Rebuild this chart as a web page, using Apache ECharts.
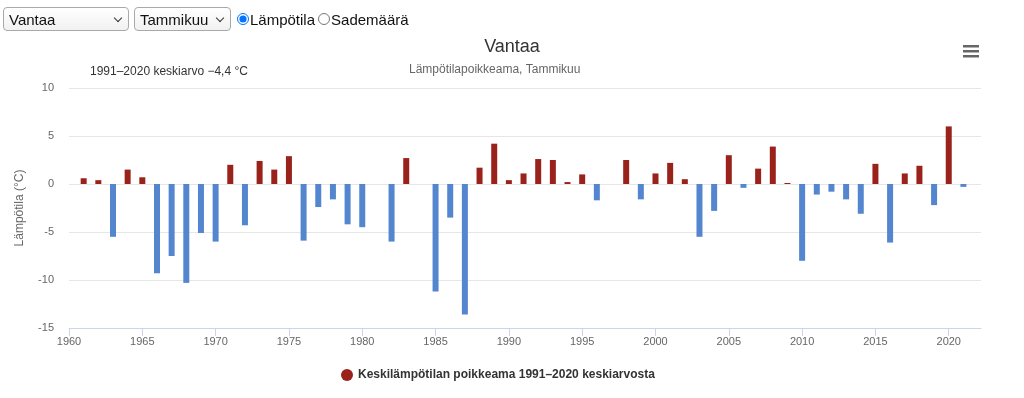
<!DOCTYPE html>
<html>
<head>
<meta charset="utf-8">
<script src="https://cdn.jsdelivr.net/npm/echarts@6/dist/echarts.min.js"></script>
<style>
	html, body { margin: 0; padding: 0; background: #fff; }
	#chart { position: absolute; left: 0; top: 0; width: 1024px; height: 398px; }
	.controls {
		position: absolute; left: 3px; top: 7px; z-index: 2;
		font-family: "Liberation Sans", Arial, sans-serif; font-size: 15px; color: #111;
		display: flex; align-items: center;
	}
	.controls select {
		-webkit-appearance: none; appearance: none;
		height: 24px; border: 1px solid #a9a9a9; border-radius: 4px;
		background: linear-gradient(#fff, #f1f1f1) ;
		font-family: inherit; font-size: 15px; color: #111;
		padding: 0 20px 0 5px; margin-right: 5px;
	}
	.controls .sel { position: relative; }
	.controls .sel:after {
		content: ""; position: absolute; right: 13px; top: 8px;
		width: 5px; height: 5px; border-right: 1.5px solid #333; border-bottom: 1.5px solid #333;
		transform: rotate(45deg);
	}
	.controls label { display: flex; align-items: center; margin-right: 2px; }
	.controls input { margin: 0 1px 0 1px; width: 12px; height: 12px; }
</style>
</head>
<body>
<div class="controls">
	<span class="sel"><select style="width:126px"><option>Vantaa</option></select></span>
	<span class="sel"><select style="width:97px"><option>Tammikuu</option></select></span>
	<label><input type="radio" name="m" checked>Lämpötila</label>
	<label><input type="radio" name="m">Sademäärä</label>
</div>
<div id="chart"></div>
<script>
	// vuodet ja poikkeamat (°C), puuttuvat vuodet = null
	var years = [];
	for (var y = 1961; y <= 2021; y++) years.push(y);
	var anomalies = [
		0.6, 0.4, -5.5, 1.5, 0.7, -9.3, -7.5, -10.3, -5.1, -6.0,
		2.0, -4.3, 2.4, 1.5, 2.9, -5.9, -2.4, -1.6, -4.2, -4.5,
		null, -6.0, 2.7, null, -11.2, -3.5, -13.6, 1.7, 4.2, 0.4,
		1.1, 2.6, 2.5, 0.2, 1.0, -1.7, null, 2.5, -1.6, 1.1,
		2.2, 0.5, -5.5, -2.8, 3.0, -0.4, 1.6, 3.9, 0.1, -8.0,
		-1.1, -0.8, -1.6, -3.1, 2.1, -6.1, 1.1, 1.9, -2.2, 6.0,
		-0.3
	];
	var xTicks = [1960, 1965, 1970, 1975, 1980, 1985, 1990, 1995, 2000, 2005, 2010, 2015, 2020];

	var red = '#99231b';
	var blue = '#5386cf';
	var font = '"Liberation Sans", Arial, sans-serif';

	var barData = years.map(function (yr, i) {
		var v = anomalies[i];
		if (v === null) return [yr, null];
		return v < 0 ? { value: [yr, v], itemStyle: { color: blue } } : { value: [yr, v] };
	});

	var chart = echarts.init(document.getElementById('chart'));
	chart.setOption({
		animation: false,
		textStyle: { fontFamily: font },
		grid: { left: 69, right: 43, top: 88, bottom: 70 },
		legend: {
			left: 336, top: 364,
			icon: 'circle', itemWidth: 12, itemHeight: 12,
			textStyle: { fontSize: 12, fontWeight: 'bold', color: '#333', fontFamily: font },
			data: ['Keskilämpötilan poikkeama 1991–2020 keskiarvosta']
		},
		xAxis: {
			type: 'value',
			min: 1960, max: 2022.2,
			axisLine: { onZero: false, lineStyle: { color: '#ccd6eb' } },
			axisTick: { show: true, length: 8, lineStyle: { color: '#ccd6eb' }, customValues: xTicks },
			axisLabel: { color: '#666', fontSize: 11, margin: 8, customValues: xTicks, formatter: function (v) { return String(v); } },
			splitLine: { show: false }
		},
		yAxis: {
			type: 'value',
			min: -15, max: 10, interval: 5,
			name: 'Lämpötila (°C)',
			nameLocation: 'middle', nameGap: 43,
			nameTextStyle: { color: '#666', fontSize: 12 },
			axisLine: { show: false },
			axisTick: { show: false },
			axisLabel: { color: '#666', fontSize: 11, margin: 15 },
			splitLine: { lineStyle: { color: '#e6e6e6' } }
		},
		graphic: [
			{ type: 'text', left: 'center', top: 38, style: { text: 'Vantaa', fill: '#333', font: '18px ' + font }, position: [-15, 0] },
			{ type: 'text', left: 409, top: 64, style: { text: 'Lämpötilapoikkeama, Tammikuu', fill: '#666', font: '12px ' + font } },
			{ type: 'text', left: 90, top: 66, style: { text: '1991–2020 keskiarvo −4,4 °C', fill: '#333', font: '12px ' + font } },
			{ type: 'rect', left: 963, top: 45, shape: { width: 16, height: 2.5 }, style: { fill: '#666' } },
			{ type: 'rect', left: 963, top: 50, shape: { width: 16, height: 2.5 }, style: { fill: '#666' } },
			{ type: 'rect', left: 963, top: 55, shape: { width: 16, height: 2.5 }, style: { fill: '#666' } }
		],
		series: [{
			name: 'Keskilämpötilan poikkeama 1991–2020 keskiarvosta',
			type: 'bar',
			barWidth: 6,
			barMinHeight: 1,
			itemStyle: { color: red },
			data: barData
		}]
	});
</script>
</body>
</html>
